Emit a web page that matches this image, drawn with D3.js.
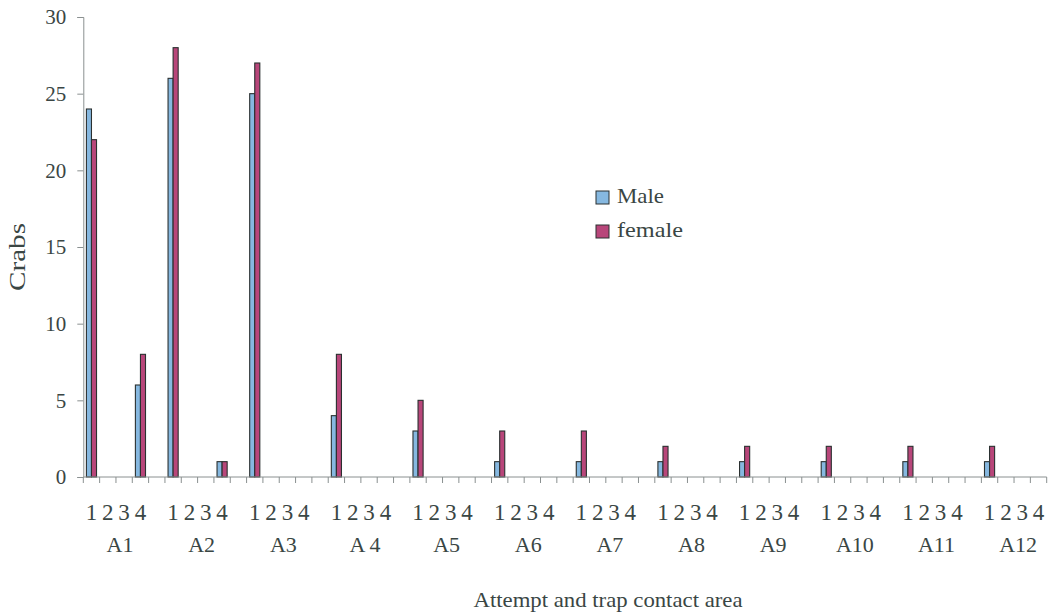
<!DOCTYPE html>
<html><head><meta charset="utf-8">
<script src="https://cdn.jsdelivr.net/npm/d3@7"></script>
<style>
html,body{margin:0;padding:0;background:#fff;}
svg{display:block;}
text{font-family:"Liberation Serif","Times New Roman",serif;fill:#3a4644;}
</style></head>
<body>
<svg id="chart" width="1052" height="615"></svg>
<script>
const groups = ["A1","A2","A3","A4","A5","A6","A7","A8","A9","A10","A11","A12"];
const groupLabels = ["A1","A2","A3","A 4","A5","A6","A7","A8","A9","A10","A11","A12"];
const subCats = ["1","2","3","4"];
const male = [
  [24,0,0,6],[26,0,0,1],[25,0,0,0],[4,0,0,0],[3,0,0,0],[1,0,0,0],
  [1,0,0,0],[1,0,0,0],[1,0,0,0],[1,0,0,0],[1,0,0,0],[1,0,0,0]
];
const female = [
  [22,0,0,8],[28,0,0,1],[27,0,0,0],[8,0,0,0],[5,0,0,0],[3,0,0,0],
  [3,0,0,0],[2,0,0,0],[2,0,0,0],[2,0,0,0],[2,0,0,0],[2,0,0,0]
];
const seriesNames = ["Male","female"];
const yTicks = [0,5,10,15,20,25,30];

(function(){
const colors = {Male:"#86b8e0", female:"#b8467a"};

const svg = d3.select("#chart");
const mLeft = 83.3, mRight = 1046.7, mTop = 17, mBottom = 477;

// slots: 4 categories per group plus a blank gap between groups
const slots = [];
groups.forEach((g,gi)=>{
  subCats.forEach(s=>slots.push(g+"-"+s));
  if (gi < groups.length-1) slots.push(g+"-gap");
});

const x = d3.scaleBand().domain(slots).range([mLeft,mRight]).padding(0);
const y = d3.scaleLinear().domain([0,30]).range([mBottom,mTop]);
const bw = x.bandwidth();
const barW = bw*0.31;

// bars
const barData = [];
groups.forEach((g,gi)=>{
  subCats.forEach((s,si)=>{
    [male, female].forEach((arr,k)=>{
      const v = arr[gi][si];
      if (v>0) barData.push({slot:g+"-"+s, k, v, name:seriesNames[k]});
    });
  });
});
svg.append("g").selectAll("rect").data(barData).join("rect")
  .attr("x", d=> x(d.slot) + bw/2 - barW + d.k*barW)
  .attr("y", d=> y(d.v))
  .attr("width", barW)
  .attr("height", d=> y(0)-y(d.v))
  .attr("fill", d=> colors[d.name])
  .attr("stroke", "#2a3030")
  .attr("stroke-width", 1.1);

// y axis
const yAxis = d3.axisLeft(y).tickValues(yTicks).tickSize(6).tickPadding(11);
const yg = svg.append("g").attr("transform",`translate(${mLeft},0)`).call(yAxis);
yg.select(".domain").attr("stroke","#8a9090");
yg.selectAll(".tick line").attr("stroke","#8a9090");
yg.selectAll("text").style("font-size","21px").style("font-family","'Liberation Serif',serif").attr("fill","#3a4644");

// x axis line & boundary ticks
const xg = svg.append("g");
xg.append("line").attr("x1",mLeft).attr("x2",mRight).attr("y1",mBottom).attr("y2",mBottom)
  .attr("stroke","#8a9090");
const bounds = slots.map(s=>x(s)).concat([mRight]);
xg.selectAll("line.t").data(bounds).join("line").attr("class","t")
  .attr("x1",d=>d).attr("x2",d=>d).attr("y1",mBottom).attr("y2",mBottom+6)
  .attr("stroke","#8a9090");

// sub-category labels
const subData = [];
groups.forEach(g=>subCats.forEach(s=>subData.push({slot:g+"-"+s, s})));
xg.selectAll("text.sub").data(subData).join("text").attr("class","sub")
  .attr("x", d=> x(d.slot)+bw/2).attr("y", 520)
  .attr("text-anchor","middle").style("font-size","23px").text(d=>d.s);

// group labels
xg.selectAll("text.grp").data(groups).join("text").attr("class","grp")
  .attr("x", (g)=> x(g+"-1") + bw*2.25).attr("y", 552)
  .attr("text-anchor","middle").style("font-size","22px")
  .text((g,i)=>groupLabels[i]);

// axis titles
svg.append("text").attr("x",608).attr("y",607).attr("text-anchor","middle")
  .style("font-size","22px").attr("textLength",269).attr("lengthAdjust","spacingAndGlyphs")
  .text("Attempt and trap contact area");
svg.append("text").attr("transform","translate(25,257) rotate(-90)")
  .attr("text-anchor","middle").style("font-size","23px")
  .attr("textLength",68).attr("lengthAdjust","spacingAndGlyphs").text("Crabs");

// legend
const lg = svg.append("g");
seriesNames.forEach((n,i)=>{
  const yy = 191 + i*34;
  lg.append("rect").attr("x",596).attr("y",yy).attr("width",13).attr("height",13)
    .attr("fill",colors[n]).attr("stroke","#2a3030").attr("stroke-width",1);
  lg.append("text").attr("x",617).attr("y",yy+12).style("font-size","21px")
    .attr("textLength", n==="Male"?47:66).attr("lengthAdjust","spacingAndGlyphs").text(n);
});
})();
</script>
</body></html>
